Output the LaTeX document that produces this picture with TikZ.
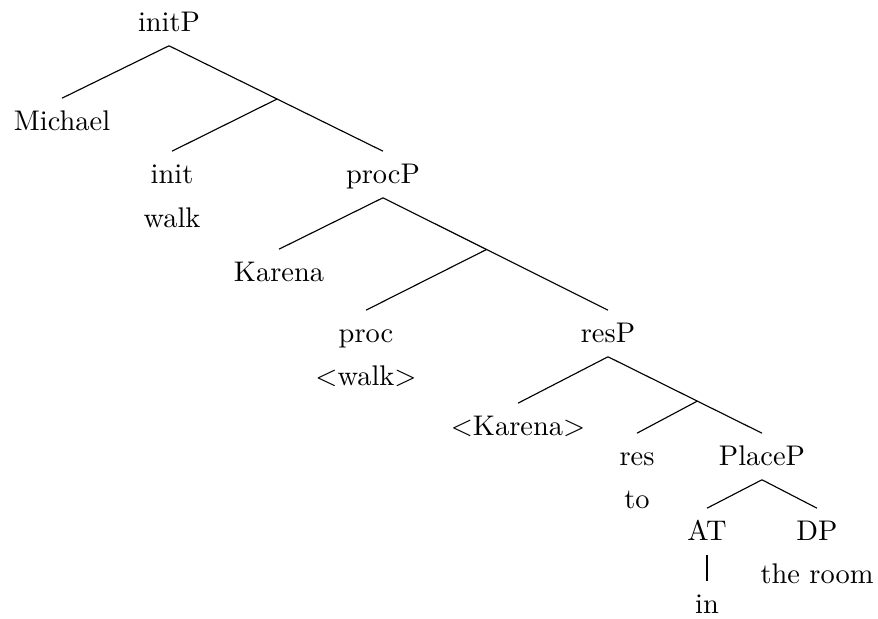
\documentclass[tikz,border=0pt]{standalone}
\usetikzlibrary{calc}
\begin{document}
\begin{tikzpicture}[x=0.352pt,y=-0.352pt,
  lbl/.style={anchor=base,inner sep=0pt,text height=11pt,text depth=5pt},
  branch/.style={draw,line width=0.4pt}]
\useasboundingbox (0,0) rectangle (878,619);
% nodes
\node[lbl] (initP) at (169,31) {initP};
\node[lbl] (michael) at (62,130) {Michael};
\node[lbl] (init) at (172,183) {init};
\node[lbl] (walk) at (172,227) {walk};
\node[lbl] (procP) at (383,183) {procP};
\node[lbl] (karena) at (279,281) {Karena};
\node[lbl] (proc) at (366,342) {proc};
\node[lbl] (walkt) at (366,385) {$<$walk$>$};
\node[lbl] (resP) at (608,342) {resP};
\node[lbl] (karenat) at (518,435) {$<$Karena$>$};
\node[lbl] (res) at (637,465) {res};
\node[lbl] (to) at (637,508) {to};
\node[lbl] (placeP) at (762,465) {PlaceP};
\node[lbl] (AT) at (707,540) {AT};
\node[lbl] (in) at (707,613) {in};
\node[lbl] (DP) at (817,540) {DP};
\node[lbl] (room) at (817,583) {the room};
% bar-level branching points
\coordinate (initbar) at ($(initP.south)!0.505!(procP.north)$);
\coordinate (procbar) at ($(procP.south)!0.46!(resP.north)$);
\coordinate (resbar) at ($(resP.south)!0.58!(placeP.north)$);
% branches
\path[branch] (initP.south) -- (michael.north);
\path[branch] (initP.south) -- (initbar) -- (procP.north);
\path[branch] (initbar) -- (init.north);
\path[branch] (procP.south) -- (karena.north);
\path[branch] (procP.south) -- (procbar) -- (resP.north);
\path[branch] (procbar) -- (proc.north);
\path[branch] (resP.south) -- (karenat.north);
\path[branch] (resP.south) -- (resbar) -- (placeP.north);
\path[branch] (resbar) -- (res.north);
\path[branch] (placeP.south) -- (AT.north);
\path[branch] (placeP.south) -- (DP.north);
\path[branch] (AT.south) -- (in.north);
\end{tikzpicture}
\end{document}
